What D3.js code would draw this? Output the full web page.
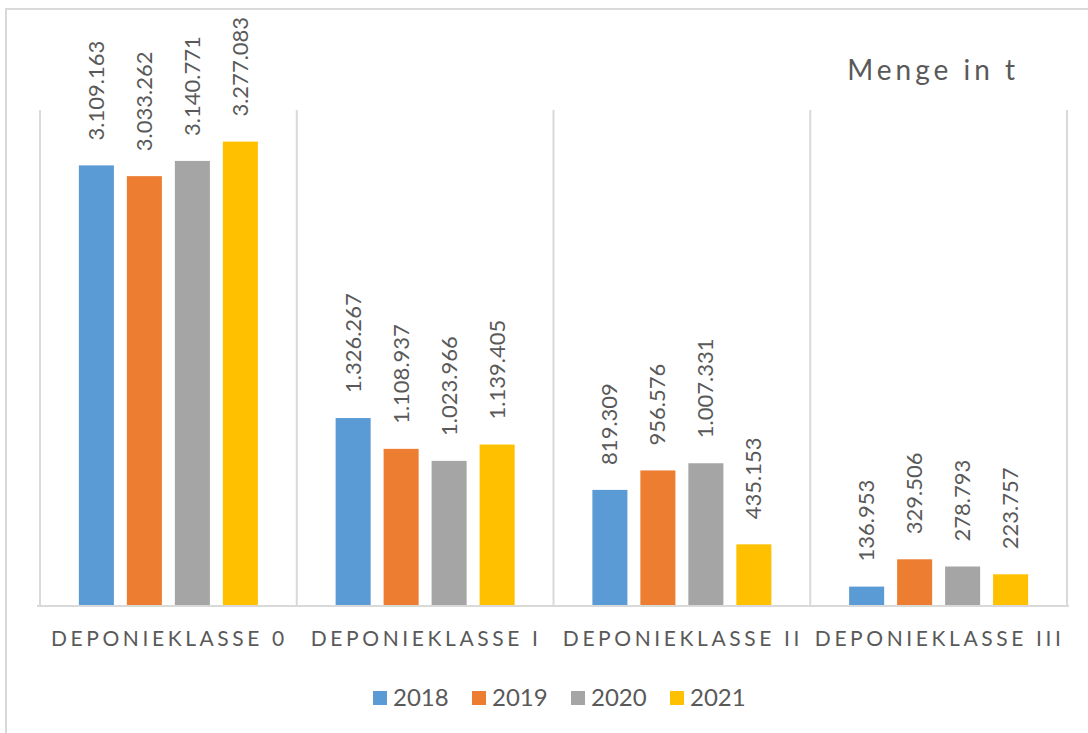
<!DOCTYPE html>
<html>
<head>
<meta charset="utf-8">
<script src="https://cdn.jsdelivr.net/npm/d3@7"></script>
<style>
  body { margin: 0; background: #fff; }
  svg { display: block; }
</style>
</head>
<body>
<script>
// data
var categories = ["DEPONIEKLASSE 0", "DEPONIEKLASSE I", "DEPONIEKLASSE II", "DEPONIEKLASSE III"];
var years = ["2018", "2019", "2020", "2021"];
var v2018 = [3109163, 1326267, 819309, 136953];
var v2019 = [3033262, 1108937, 956576, 329506];
var v2020 = [3140771, 1023966, 1007331, 278793];
var v2021 = [3277083, 1139405, 435153, 223757];
var colors = ["#5b9bd5", "#ed7d31", "#a5a5a5", "#ffc000"];
var unitTitle = "Menge in t";

var series = [v2018, v2019, v2020, v2021];

var width = 1088, height = 733;
var plotLeft = 40, plotRight = 1067, plotTop = 110, plotBottom = 606;
var gridColor = "#d9d9d9";
var textColor = "#595959";

var de = d3.formatLocale({decimal: ",", thousands: ".", grouping: [3], currency: ["", " €"]});
var fmt = de.format(",d");

var svg = d3.select("body").append("svg")
    .attr("width", width)
    .attr("height", height);

// outer chart frame (runs off the right / bottom edge like the screenshot)
svg.append("rect")
    .attr("x", 6)
    .attr("y", 9)
    .attr("width", width + 20)
    .attr("height", height + 20)
    .attr("fill", "none")
    .attr("stroke", gridColor)
    .attr("stroke-width", 2);

var x0 = d3.scaleBand()
    .domain(categories)
    .range([plotLeft, plotRight])
    .padding(0);

var x1 = d3.scaleBand()
    .domain(years)
    .range([0, x0.bandwidth()])
    .paddingInner(0.27)
    .paddingOuter(0.81);

var y = d3.scaleLinear()
    .domain([0, 3500000])
    .range([plotBottom, plotTop]);

// category separators
var seps = categories.map(function(c) { return x0(c); }).concat([plotRight]);
svg.selectAll("line.sep")
    .data(seps)
    .enter()
    .append("line")
    .attr("class", "sep")
    .attr("x1", function(d) { return d; })
    .attr("x2", function(d) { return d; })
    .attr("y1", y(3500000))
    .attr("y2", y(0))
    .attr("stroke", gridColor)
    .attr("stroke-width", 2);

// baseline
svg.append("line")
    .attr("x1", plotLeft - 3)
    .attr("x2", plotRight + 2)
    .attr("y1", y(0))
    .attr("y2", y(0))
    .attr("stroke", gridColor)
    .attr("stroke-width", 2);

var flat = [];
categories.forEach(function(c, i) {
    years.forEach(function(yr, j) {
        flat.push({cat: c, year: yr, value: series[j][i], color: colors[j]});
    });
});

svg.selectAll("rect.bar")
    .data(flat)
    .enter()
    .append("rect")
    .attr("class", "bar")
    .attr("x", function(d) { return x0(d.cat) + x1(d.year); })
    .attr("y", function(d) { return y(d.value); })
    .attr("width", x1.bandwidth())
    .attr("height", function(d) { return y(0) - y(d.value) - 1; })
    .attr("fill", function(d) { return d.color; });

// value labels, rotated
svg.selectAll("text.val")
    .data(flat)
    .enter()
    .append("text")
    .attr("class", "val")
    .attr("transform", function(d) {
        var cx = x0(d.cat) + x1(d.year) + x1.bandwidth() / 2;
        return "translate(" + (cx + 7.5) + "," + (y(d.value) - 25) + ") rotate(-90)";
    })
    .attr("font-family", "Lato, 'Liberation Sans', sans-serif")
    .attr("font-size", 22)
    .attr("fill", textColor)
    .attr("text-anchor", "start")
    .text(function(d) { return fmt(d.value); });

// category labels
svg.selectAll("text.cat")
    .data(categories)
    .enter()
    .append("text")
    .attr("class", "cat")
    .attr("x", function(d) { return x0(d) + x0.bandwidth() / 2 + 1; })
    .attr("y", 646)
    .attr("font-family", "Lato, 'Liberation Sans', sans-serif")
    .attr("font-size", 21)
    .attr("letter-spacing", 3.6)
    .attr("fill", textColor)
    .attr("text-anchor", "middle")
    .text(function(d) { return d; });

// unit title
svg.append("text")
    .attr("x", 1019)
    .attr("y", 80)
    .attr("font-family", "Lato, 'Liberation Sans', sans-serif")
    .attr("font-size", 28)
    .attr("letter-spacing", 4)
    .attr("fill", textColor)
    .attr("text-anchor", "end")
    .text(unitTitle);

// legend
var legendStep = 99;
var legendX = 373;
var leg = svg.selectAll("g.leg")
    .data(years)
    .enter()
    .append("g")
    .attr("class", "leg")
    .attr("transform", function(d, i) { return "translate(" + (legendX + i * legendStep) + ",691)"; });

leg.append("rect")
    .attr("width", 14)
    .attr("height", 14)
    .attr("fill", function(d, i) { return colors[i]; });

leg.append("text")
    .attr("x", 20)
    .attr("y", 15)
    .attr("font-family", "Lato, 'Liberation Sans', sans-serif")
    .attr("font-size", 24)
    .attr("fill", textColor)
    .text(function(d) { return d; });
</script>
</body>
</html>
